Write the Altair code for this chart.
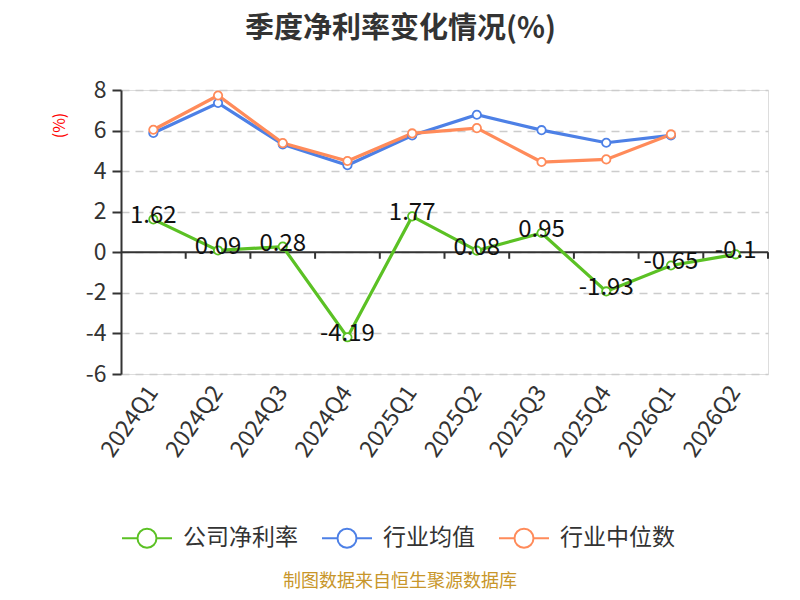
import altair as alt
import pandas as pd

quarters = ["2024Q1", "2024Q2", "2024Q3", "2024Q4", "2025Q1",
            "2025Q2", "2025Q3", "2025Q4", "2026Q1", "2026Q2"]
company = [1.62, 0.09, 0.28, -4.19, 1.77, 0.08, 0.95, -1.93, -0.65, -0.1]
ind_mean = [5.88, 7.36, 5.32, 4.29, 5.76, 6.78, 6.02, 5.40, 5.76]
ind_median = [6.04, 7.73, 5.38, 4.50, 5.86, 6.12, 4.45, 4.58, 5.81]
series_names = ["公司净利率", "行业均值", "行业中位数"]
colors = ["#5bc124", "#4d80e6", "#ff8b5a"]
y_ticks = [-6, -4, -2, 0, 2, 4, 6, 8]

FONT = "Noto Sans CJK SC"

rows = []
for name, vals in zip(series_names, [company, ind_mean, ind_median]):
    for i, v in enumerate(vals):
        rows.append({"quarter": quarters[i], "series": name, "value": v,
                     "label": str(v)})
df = pd.DataFrame(rows)
comp_df = df[df["series"] == series_names[0]]

x_enc = alt.X("quarter:N", sort=quarters,
              scale=alt.Scale(type="band", domain=quarters, paddingInner=0, paddingOuter=0),
              axis=alt.Axis(title=None, labelAngle=-55, labelAlign="right", labelBaseline="middle",
                            domain=False, ticks=False, grid=False, labelPadding=14,
                            labelFontSize=23, labelColor="#333", labelFont=FONT))
y_enc = alt.Y("value:Q",
              scale=alt.Scale(domain=[-6, 8], nice=False, zero=False),
              axis=alt.Axis(values=y_ticks, title="(%)", titleColor="red", titleFontSize=16,
                            titleFontWeight="normal", titleFont=FONT, titleX=-62, titleY=35,
                            titleAlign="center", titleBaseline="middle",
                            labelExpr="toString(datum.value)",
                            labelFontSize=23, labelColor="#333", labelFont=FONT, labelPadding=6,
                            domainColor="#333", domainWidth=2, tickColor="#333", tickWidth=2,
                            tickSize=9, gridDash=[8, 6], gridColor="#cccccc", gridWidth=1.5))

legend_path = ("M-1,0L-0.38,0M0.38,0L1,0M0.38,0A0.38,0.38,0,1,1,-0.38,0"
               "A0.38,0.38,0,1,1,0.38,0")

color_enc = alt.Color("series:N", sort=series_names,
                      scale=alt.Scale(domain=series_names, range=colors),
                      legend=alt.Legend(title=None, orient="none", direction="horizontal",
                                        legendX=0, legendY=422, symbolType=legend_path,
                                        symbolSize=2500, symbolStrokeWidth=2,
                                        symbolFillColor="white", labelFontSize=23,
                                        labelColor="#333", labelFont=FONT, labelOffset=10,
                                        columnPadding=20, padding=0))

zero_df = pd.DataFrame({"value": [0]})
zero_line = alt.Chart(zero_df).mark_rule(color="#333", strokeWidth=2).encode(y="value:Q")

tick_df = pd.DataFrame({"quarter": quarters})
ticks = alt.Chart(tick_df).mark_rule(color="#333", strokeWidth=2).encode(
    x=alt.X("quarter:N", sort=quarters, bandPosition=1),
    y=alt.datum(0), y2=alt.datum(-0.32))

lines = alt.Chart(df).mark_line(
    strokeWidth=3.2,
    point=alt.OverlayMarkDef(filled=False, fill="white", fillOpacity=1, size=70, strokeWidth=1.8)
).encode(x=x_enc, y=y_enc, color=color_enc)

labels = alt.Chart(comp_df).mark_text(fontSize=24, dy=-3, color="#111", font=FONT).encode(
    x=alt.X("quarter:N", sort=quarters), y="value:Q", text="label:N")

source_df = pd.DataFrame({"t": ["制图数据来自恒生聚源数据库"]})
source = alt.Chart(source_df).mark_text(fontSize=18, color="#c8962a", font=FONT,
                                        align="center", baseline="middle").encode(
    x=alt.value(279), y=alt.value(492), text="t:N")

chart = alt.layer(zero_line, ticks, lines, labels, source).properties(
    width=647, height=284,
    autosize=alt.AutoSizeParams(type="none"),
    padding={"left": 113, "top": 82, "right": 24, "bottom": 218},
    title=alt.TitleParams("季度净利率变化情况(%)", fontSize=29, fontWeight="bold", color="#333",
                          font=FONT, anchor="middle", dx=-44, frame="group", offset=35),
).configure_view(stroke="transparent", strokeWidth=0).configure(background="white")

chart.save("out.html", embed_options={"renderer": "svg", "actions": False})
